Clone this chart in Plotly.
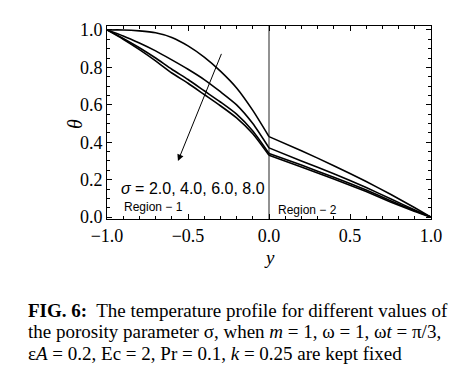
import plotly.graph_objects as go

# ---- data ----
sigma_labels = ["2.0", "4.0", "6.0", "8.0"]

y_region1 = [-1.0, -0.9, -0.8, -0.7, -0.6, -0.5, -0.4, -0.3, -0.2, -0.1, 0.0]
theta1_s2 = [1.0, 1.0, 0.995, 0.985, 0.96, 0.915, 0.855, 0.78, 0.69, 0.57, 0.43]
theta1_s4 = [1.0, 0.968, 0.93, 0.888, 0.84, 0.79, 0.735, 0.67, 0.60, 0.50, 0.37]
theta1_s6 = [1.0, 0.955, 0.905, 0.85, 0.79, 0.735, 0.675, 0.615, 0.55, 0.46, 0.34]
theta1_s8 = [1.0, 0.95, 0.895, 0.835, 0.77, 0.715, 0.655, 0.595, 0.53, 0.445, 0.33]

y_region2 = [0.0, 0.2, 0.4, 0.6, 0.75, 0.9, 1.0]
theta2_s2 = [0.43, 0.355, 0.275, 0.19, 0.122, 0.05, 0.0]
theta2_s4 = [0.37, 0.30, 0.232, 0.158, 0.098, 0.038, 0.0]
theta2_s6 = [0.34, 0.278, 0.213, 0.145, 0.088, 0.034, 0.0]
theta2_s8 = [0.33, 0.268, 0.204, 0.137, 0.081, 0.03, 0.0]

interface_y = 0.0
x_ticks = [-1.0, -0.5, 0.0, 0.5, 1.0]
theta_ticks = [0.0, 0.2, 0.4, 0.6, 0.8, 1.0]

region1 = [theta1_s2, theta1_s4, theta1_s6, theta1_s8]
region2 = [theta2_s2, theta2_s4, theta2_s6, theta2_s8]

fig = go.Figure()

# interface line
fig.add_trace(go.Scatter(x=[interface_y, interface_y], y=[-0.01, 1.021], mode="lines",
                         line=dict(color="#6e6e6e", width=1.5), showlegend=False, hoverinfo="skip"))

for t1, t2 in zip(region1, region2):
    fig.add_trace(go.Scatter(x=y_region1, y=t1, mode="lines",
                             line=dict(color="black", width=1.6, shape="spline", smoothing=0.6),
                             showlegend=False))
    fig.add_trace(go.Scatter(x=y_region2, y=t2, mode="lines",
                             line=dict(color="black", width=1.6, shape="spline", smoothing=0.3),
                             showlegend=False))

serif = "Liberation Serif, Times New Roman, serif"
sans = "Liberation Sans, Arial, sans-serif"

axis_common = dict(showgrid=False, zeroline=False, showline=True, linecolor="black", linewidth=1,
                   mirror="allticks", ticks="inside", ticklen=5, tickcolor="black",
                   tickfont=dict(family=serif, size=18, color="black"))

fig.update_xaxes(range=[-1.0, 1.0], tickvals=x_ticks, tickformat=".1f",
                 minor=dict(dtick=0.1, ticks="inside", ticklen=3, tickcolor="black", showgrid=False),
                 **axis_common)
fig.update_yaxes(range=[-0.01, 1.021], tickvals=theta_ticks, tickformat=".1f",
                 minor=dict(dtick=0.05, ticks="inside", ticklen=3, tickcolor="black", showgrid=False),
                 **axis_common)

# page coordinates: plot area from x=107..431, y=22..219 (page has 8px body margin)
PL, PW, PB, PH = 107, 324, 219, 197


def px(xp):
    return (xp - PL) / PW


def py(yp):
    return (PB - yp) / PH


annotations = [
    # arrow
    dict(x=-0.562, y=0.30, ax=-0.29, ay=0.88, xref="x", yref="y", axref="x", ayref="y",
         showarrow=True, arrowhead=2, arrowsize=1.3, arrowwidth=1, arrowcolor="black", text=""),
    dict(x=-0.47, y=0.152, xref="x", yref="y", showarrow=False,
         text="<i>σ</i> = " + ", ".join(sigma_labels),
         font=dict(family=sans, size=16, color="black")),
    dict(x=-0.716, y=0.052, xref="x", yref="y", showarrow=False, text="Region − 1",
         font=dict(family=sans, size=12, color="black")),
    dict(x=0.235, y=0.037, xref="x", yref="y", showarrow=False, text="Region − 2",
         font=dict(family=sans, size=12, color="black")),
    # axis titles
    dict(x=px(62), y=py(122), xref="paper", yref="paper", showarrow=False,
         text="<i>θ</i>", textangle=-90, font=dict(family=serif, size=20, color="black")),
    dict(x=px(269), y=py(271), xref="paper", yref="paper", showarrow=False,
         text="<i>y</i>", font=dict(family=serif, size=19, color="black")),
]

caption_lines = [
    "<b>FIG. 6:</b>  The temperature profile for different values of",
    "the porosity parameter σ, when <i>m</i> = 1, ω = 1, ω<i>t</i> = π/3,",
    "ε<i>A</i> = 0.2, Ec = 2, Pr = 0.1, <i>k</i> = 0.25 are kept fixed",
]
caption_py = [312, 334, 356]
for line, yp in zip(caption_lines, caption_py):
    annotations.append(dict(x=px(26), y=py(yp), xref="paper", yref="paper",
                            xanchor="left", yanchor="middle", showarrow=False, text=line,
                            font=dict(family=serif, size=19, color="black")))

# figure is 8px smaller to account for the page's default body margin
fig.update_layout(width=461, height=379, margin=dict(l=PL - 8, r=461 - (PL - 8) - PW, t=22 - 8,
                                                     b=379 - (22 - 8) - PH),
                  paper_bgcolor="white", plot_bgcolor="white", annotations=annotations)

fig.write_html("out.html")
